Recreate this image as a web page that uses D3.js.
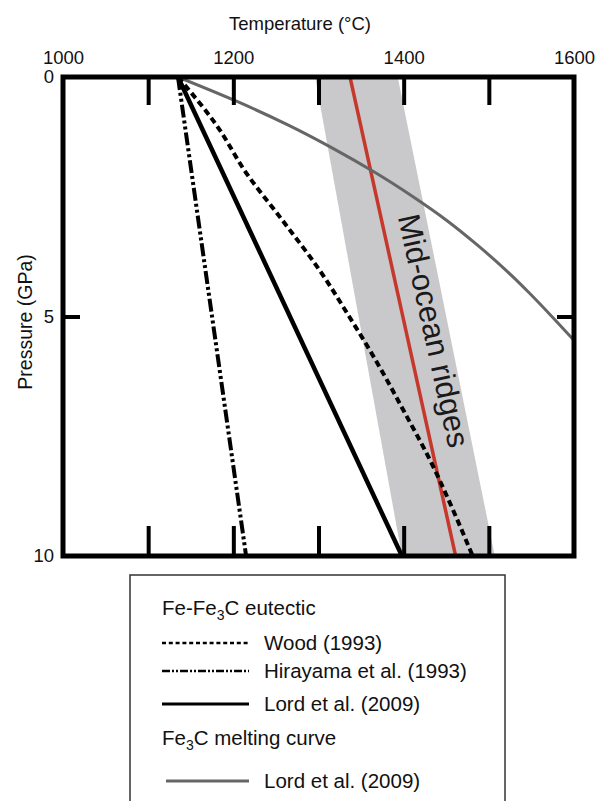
<!DOCTYPE html>
<html>
<head>
<meta charset="utf-8">
<style>
  body { margin: 0; background: #fff; }
  svg { display: block; }
  text { font-family: "Liberation Sans", Arial, Helvetica, sans-serif; fill: #111; }
</style>
</head>
<body>
<script src="https://cdn.jsdelivr.net/npm/d3@7/dist/d3.min.js"></script>
<script>
// ---- data ----
let labelTemps = [1000, 1200, 1400, 1600]
let innerTemps = [1100, 1200, 1300, 1400, 1500]
let pressTicks = [0, 5, 10]

// Fe-Fe3C eutectic, pressure (GPa) vs temperature (C)
let woodP = [0, 1, 2, 3, 4, 5, 6, 7, 8, 9, 10]
let woodT = [1135, 1180, 1215, 1258, 1300, 1336, 1370, 1401, 1431, 1457, 1481]
let hiraP = [0, 10]
let hiraT = [1135, 1215]
let lordP = [0, 10]
let lordT = [1135, 1398]
// Fe3C melting curve
let meltP = [0, 0.5, 1, 1.5, 2, 2.5, 3, 3.5, 4, 4.5, 5, 5.5]
let meltT = [1135, 1203, 1264, 1318, 1367, 1411, 1451, 1486, 1518, 1547, 1574, 1600]
// mid-ocean ridge adiabat and its band
let ridgeP = [0, 10]
let ridgeT = [1337, 1461]
let bandLo = [1296, 1398]
let bandHi = [1393, 1507]

let svg = d3.select("body").append("svg").attr("width", 595).attr("height", 801)

let x = d3.scaleLinear().domain([1000, 1600]).range([63, 574])
let y = d3.scaleLinear().domain([0, 10]).range([77, 556])

svg.append("clipPath").attr("id", "plot")
   .append("rect").attr("x", 63).attr("y", 77).attr("width", 511).attr("height", 479)

let plot = svg.append("g").attr("clip-path", "url(#plot)")

let zip = (ps, ts) => ps.map((p, i) => [ts[i], p])
let line = d3.line().x(d => x(d[0])).y(d => y(d[1]))
let smooth = d3.line().x(d => x(d[0])).y(d => y(d[1])).curve(d3.curveMonotoneY)

// band
let band = d3.area().y(d => y(d.p)).x0(d => x(d.lo)).x1(d => x(d.hi))
plot.append("path")
    .datum(ridgeP.map((p, i) => ({p: p, lo: bandLo[i], hi: bandHi[i]})))
    .attr("d", band).attr("fill", "#c9c9cb")

plot.append("path").datum(zip(ridgeP, ridgeT)).attr("d", line)
    .attr("fill", "none").attr("stroke", "#c6372c").attr("stroke-width", 3.5)

plot.append("path").datum(zip(meltP, meltT)).attr("d", smooth)
    .attr("fill", "none").attr("stroke", "#666").attr("stroke-width", 3)

plot.append("path").datum(zip(woodP, woodT)).attr("d", smooth)
    .attr("fill", "none").attr("stroke", "#000").attr("stroke-width", 4)
    .attr("stroke-dasharray", "6.5,4")

plot.append("path").datum(zip(hiraP, hiraT)).attr("d", line)
    .attr("fill", "none").attr("stroke", "#000").attr("stroke-width", 4)
    .attr("stroke-dasharray", "13,3,3,3,3,3")

plot.append("path").datum(zip(lordP, lordT)).attr("d", line)
    .attr("fill", "none").attr("stroke", "#000").attr("stroke-width", 4.5)

// ridge label, rotated along the adiabat
let ang = Math.atan2(y(10) - y(0), x(ridgeT[1]) - x(ridgeT[0])) * 180 / Math.PI
plot.append("text")
    .attr("transform", `translate(${x(1393)},${y(2.92)}) rotate(${ang})`)
    .attr("font-size", 31).style("fill", "#1a1a1a")
    .text("Mid-ocean ridges")

// frame and ticks
svg.append("rect").attr("x", 63).attr("y", 77).attr("width", 511).attr("height", 479)
   .attr("fill", "none").attr("stroke", "#000").attr("stroke-width", 5)

let tickStyle = g => {
    g.select(".domain").remove()
    g.selectAll("line").attr("stroke", "#000").attr("stroke-width", 4)
}
svg.append("g").attr("transform", "translate(0,77)")
   .call(d3.axisTop(x).tickValues(innerTemps).tickSize(-28).tickFormat(""))
   .call(tickStyle)
svg.append("g").attr("transform", "translate(0,556)")
   .call(d3.axisBottom(x).tickValues(innerTemps).tickSize(-30).tickFormat(""))
   .call(tickStyle)
svg.append("g").attr("transform", "translate(63,0)")
   .call(d3.axisLeft(y).tickValues([5]).tickSize(-17).tickFormat(""))
   .call(tickStyle)
svg.append("g").attr("transform", "translate(574,0)")
   .call(d3.axisRight(y).tickValues([5]).tickSize(-17).tickFormat(""))
   .call(tickStyle)

// labels
let labelStyle = g => {
    g.select(".domain").remove()
    g.selectAll("line").remove()
    g.selectAll("text").attr("font-size", 18.5)
     .attr("font-family", "'Liberation Sans', Arial, sans-serif").style("fill", "#111")
}
svg.append("g").attr("transform", "translate(0,77)")
   .call(d3.axisTop(x).tickValues(labelTemps).tickSize(0).tickPadding(13).tickFormat(d3.format("d")))
   .call(labelStyle)
svg.append("g").attr("transform", "translate(63,0)")
   .call(d3.axisLeft(y).tickValues(pressTicks).tickSize(0).tickPadding(9))
   .call(labelStyle)

svg.append("text").attr("x", 300).attr("y", 30).attr("text-anchor", "middle")
   .attr("font-size", 18.5).text("Temperature (\u00B0C)")
svg.append("text").attr("transform", "translate(32,322) rotate(-90)")
   .attr("text-anchor", "middle").attr("font-size", 19.5).text("Pressure (GPa)")

// legend
let legend = svg.append("g")
legend.append("rect").attr("x", 130).attr("y", 575).attr("width", 375).attr("height", 240)
      .attr("fill", "#fff").attr("stroke", "#333").attr("stroke-width", 1.5)

let heads = [
    {y: 615, pre: "Fe-Fe", sub: "3", post: "C eutectic"},
    {y: 745, pre: "Fe", sub: "3", post: "C melting curve"}
]
heads.forEach(h => {
    let t = legend.append("text").attr("x", 162).attr("y", h.y).attr("font-size", 20.5)
    t.append("tspan").text(h.pre)
    t.append("tspan").attr("font-size", 14).attr("dy", 5).text(h.sub)
    t.append("tspan").attr("dy", -5).text(h.post)
})

let legendNames = ["Wood (1993)", "Hirayama et al. (1993)", "Lord et al. (2009)", "Lord et al. (2009)"]
let legendRows = [643, 671, 704, 781]
let legendDash = ["4,2.8", "8,2,2,2,2,2", null, null]
let legendColor = ["#000", "#000", "#000", "#666"]
let legendWidth = [2.5, 2.5, 3.2, 2.8]
let legendX0 = [162, 162, 162, 166]

legendNames.forEach((name, i) => {
    legend.append("line")
          .attr("x1", legendX0[i]).attr("x2", 249)
          .attr("y1", legendRows[i]).attr("y2", legendRows[i])
          .attr("stroke", legendColor[i]).attr("stroke-width", legendWidth[i])
          .attr("stroke-dasharray", legendDash[i])
    legend.append("text").attr("x", 264).attr("y", legendRows[i] + 7)
          .attr("font-size", 20.5).text(name)
})
</script>
</body>
</html>
